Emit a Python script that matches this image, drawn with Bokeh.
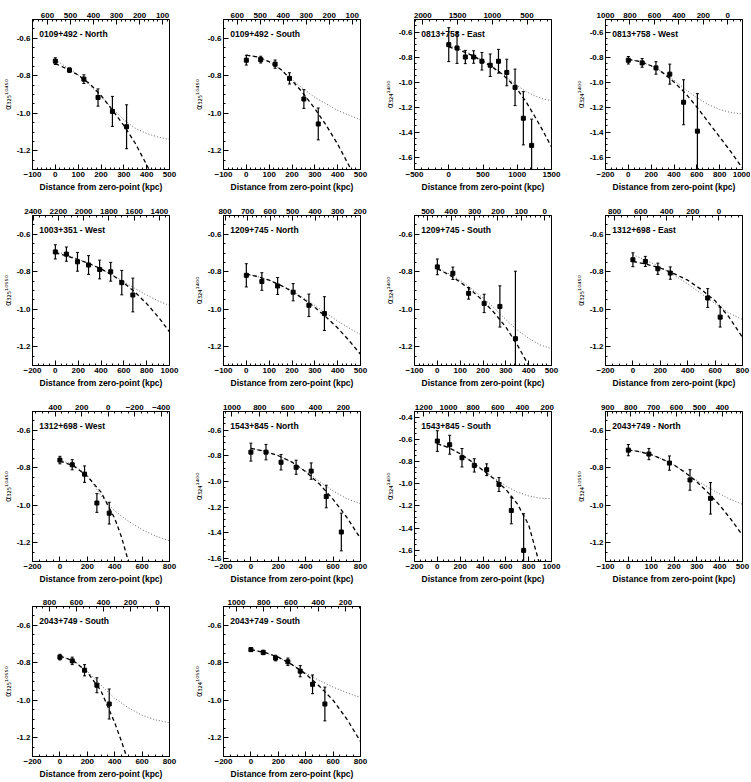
from bokeh.plotting import figure
from bokeh.layouts import gridplot
from bokeh.models import Range1d, LinearAxis, SingleIntervalTicker, Label, ColumnDataSource, PrintfTickFormatter
from bokeh.embed import file_html
from bokeh.resources import INLINE

FONT = "Liberation Sans"

# ---------------- data ----------------
titles = ["0109+492 - North", "0109+492 - South", "0813+758 - East", "0813+758 - West",
          "1003+351 - West", "1209+745 - North", "1209+745 - South", "1312+698 - East",
          "1312+698 - West", "1543+845 - North", "1543+845 - South", "2043+749 - North",
          "2043+749 - South", "2043+749 - South"]
label_sup = ["10450", "10450", "1400", "1400", "10550", "1400", "1400", "10450",
             "10450", "1400", "1400", "10550", "10550", "10550"]
label_sub = ["325", "325", "324", "324", "325", "324", "324", "325",
             "325", "324", "324", "324", "325", "324"]

p1_x = [0, 62, 125, 187, 250, 312]
p1_y = [-0.722, -0.770, -0.818, -0.916, -0.990, -1.072]
p1_err = [0.018, 0.012, 0.023, 0.046, 0.080, 0.117]
p1_dash_x = [0, 50, 100, 150, 200, 250, 300, 350, 400, 450]
p1_dash_y = [-0.735, -0.763, -0.796, -0.842, -0.905, -0.983, -1.065, -1.16, -1.275, -1.40]
p1_dot_x = [0, 50, 100, 150, 200, 250, 300, 350, 400, 450, 500]
p1_dot_y = [-0.715, -0.755, -0.795, -0.85, -0.91, -0.975, -1.035, -1.08, -1.108, -1.127, -1.14]

p2_x = [0, 63, 126, 189, 252, 315]
p2_y = [-0.717, -0.714, -0.738, -0.814, -0.924, -1.057]
p2_err = [0.026, 0.018, 0.022, 0.030, 0.050, 0.085]
p2_dash_x = [0, 50, 100, 150, 200, 250, 300, 350, 400, 450, 480]
p2_dash_y = [-0.69, -0.70, -0.725, -0.765, -0.825, -0.895, -0.975, -1.065, -1.165, -1.28, -1.35]
p2_dot_x = [0, 50, 100, 150, 200, 250, 300, 350, 400, 450, 500]
p2_dot_y = [-0.69, -0.70, -0.725, -0.765, -0.82, -0.87, -0.915, -0.95, -0.985, -1.01, -1.035]

p3_x = [0, 121, 242, 363, 484, 605, 726, 847, 968, 1089, 1210]
p3_y = [-0.701, -0.728, -0.80, -0.80, -0.834, -0.866, -0.834, -0.924, -1.043, -1.29, -1.507]
p3_err = [0.136, 0.123, 0.053, 0.05, 0.07, 0.09, 0.095, 0.106, 0.146, 0.213, 0.21]
p3_dash_x = [0, 125, 250, 375, 500, 625, 750, 875, 1000, 1125, 1250, 1375, 1500]
p3_dash_y = [-0.72, -0.74, -0.765, -0.797, -0.835, -0.877, -0.925, -0.985, -1.06, -1.155, -1.27, -1.39, -1.52]
p3_dot_x = [0, 125, 250, 375, 500, 625, 750, 875, 1000, 1125, 1250, 1375, 1500]
p3_dot_y = [-0.71, -0.73, -0.76, -0.79, -0.83, -0.872, -0.92, -0.975, -1.03, -1.075, -1.11, -1.135, -1.15]

p4_x = [0, 121, 242, 363, 484, 605]
p4_y = [-0.826, -0.847, -0.887, -0.937, -1.162, -1.393]
p4_err = [0.03, 0.035, 0.05, 0.08, 0.18, 0.30]
p4_dash_x = [0, 100, 200, 300, 400, 500, 600, 700, 800, 900, 1000]
p4_dash_y = [-0.82, -0.835, -0.87, -0.925, -1.0, -1.09, -1.2, -1.32, -1.44, -1.56, -1.69]
p4_dot_x = [0, 100, 200, 300, 400, 500, 600, 700, 800, 900, 1000]
p4_dot_y = [-0.82, -0.835, -0.87, -0.92, -0.985, -1.06, -1.125, -1.18, -1.22, -1.245, -1.255]

p5_x = [0, 97, 194, 291, 388, 485, 582, 679]
p5_y = [-0.694, -0.706, -0.747, -0.764, -0.788, -0.80, -0.858, -0.924]
p5_err = [0.038, 0.038, 0.05, 0.05, 0.05, 0.05, 0.065, 0.09]
p5_dash_x = [0, 100, 200, 300, 400, 500, 600, 700, 800, 900, 1000]
p5_dash_y = [-0.70, -0.715, -0.735, -0.757, -0.785, -0.818, -0.86, -0.91, -0.97, -1.04, -1.12]
p5_dot_x = [0, 100, 200, 300, 400, 500, 600, 700, 800, 900, 1000]
p5_dot_y = [-0.69, -0.71, -0.733, -0.757, -0.785, -0.817, -0.853, -0.89, -0.925, -0.955, -0.98]

p6_x = [0, 68, 137, 205, 274, 342]
p6_y = [-0.819, -0.852, -0.876, -0.909, -0.979, -1.023]
p6_err = [0.062, 0.047, 0.045, 0.046, 0.06, 0.09]
p6_dash_x = [0, 50, 100, 150, 200, 250, 300, 350, 400, 450, 500]
p6_dash_y = [-0.812, -0.826, -0.845, -0.872, -0.905, -0.945, -0.99, -1.042, -1.10, -1.167, -1.24]
p6_dot_x = [0, 50, 100, 150, 200, 250, 300, 350, 400, 450, 500]
p6_dot_y = [-0.812, -0.826, -0.845, -0.872, -0.90, -0.94, -0.98, -1.022, -1.063, -1.10, -1.135]

p7_x = [0, 68, 137, 205, 274, 342]
p7_y = [-0.774, -0.808, -0.915, -0.969, -0.985, -1.157]
p7_err = [0.042, 0.033, 0.031, 0.049, 0.11, 0.36]
p7_dash_x = [0, 50, 100, 150, 200, 250, 300, 350, 400]
p7_dash_y = [-0.785, -0.815, -0.855, -0.90, -0.955, -1.02, -1.095, -1.19, -1.30]
p7_dot_x = [0, 50, 100, 150, 200, 250, 300, 350, 400, 450, 500]
p7_dot_y = [-0.78, -0.81, -0.845, -0.89, -0.94, -0.995, -1.055, -1.11, -1.155, -1.19, -1.21]

p8_x = [0, 91, 182, 273, 546, 637]
p8_y = [-0.736, -0.745, -0.784, -0.807, -0.94, -1.042]
p8_err = [0.037, 0.027, 0.03, 0.033, 0.05, 0.053]
p8_dash_x = [0, 100, 200, 300, 400, 500, 600, 700, 800]
p8_dash_y = [-0.745, -0.76, -0.78, -0.81, -0.845, -0.895, -0.955, -1.04, -1.15]
p8_dot_x = [0, 100, 200, 300, 400, 500, 600, 700, 800]
p8_dot_y = [-0.71, -0.74, -0.775, -0.818, -0.865, -0.917, -0.97, -1.02, -1.055]

p9_x = [0, 90, 180, 270, 360]
p9_y = [-0.759, -0.784, -0.834, -0.988, -1.042]
p9_err = [0.02, 0.027, 0.044, 0.05, 0.058]
p9_dash_x = [0, 100, 200, 300, 400, 450, 500]
p9_dash_y = [-0.765, -0.79, -0.845, -0.93, -1.07, -1.17, -1.30]
p9_dot_x = [0, 100, 200, 300, 400, 500, 600, 700, 800]
p9_dot_y = [-0.758, -0.785, -0.84, -0.95, -1.03, -1.085, -1.13, -1.165, -1.19]

p10_x = [0, 110, 220, 330, 440, 550, 660]
p10_y = [-0.772, -0.772, -0.851, -0.89, -0.92, -1.118, -1.395]
p10_err = [0.07, 0.06, 0.06, 0.055, 0.064, 0.088, 0.147]
p10_dash_x = [0, 100, 200, 300, 400, 500, 600, 700, 800]
p10_dash_y = [-0.742, -0.765, -0.80, -0.85, -0.925, -1.02, -1.14, -1.28, -1.445]
p10_dot_x = [0, 100, 200, 300, 400, 500, 600, 700, 800]
p10_dot_y = [-0.742, -0.765, -0.80, -0.85, -0.92, -1.0, -1.075, -1.135, -1.175]

p11_x = [0, 108, 216, 324, 432, 540, 648, 756]
p11_y = [-0.616, -0.649, -0.766, -0.835, -0.874, -1.007, -1.241, -1.60]
p11_err = [0.093, 0.085, 0.083, 0.06, 0.053, 0.063, 0.12, 0.33]
p11_dash_x = [0, 100, 200, 300, 400, 500, 600, 700, 800, 900]
p11_dash_y = [-0.64, -0.675, -0.73, -0.80, -0.88, -0.96, -1.05, -1.18, -1.37, -1.74]
p11_dot_x = [0, 100, 200, 300, 400, 500, 600, 700, 800, 900, 1000]
p11_dot_y = [-0.64, -0.675, -0.73, -0.80, -0.875, -0.95, -1.02, -1.075, -1.11, -1.13, -1.135]

p12_x = [0, 90, 180, 270, 360]
p12_y = [-0.706, -0.727, -0.775, -0.865, -0.963]
p12_err = [0.03, 0.03, 0.038, 0.055, 0.084]
p12_dash_x = [0, 50, 100, 150, 200, 250, 300, 350, 400, 450, 500]
p12_dash_y = [-0.705, -0.714, -0.73, -0.755, -0.785, -0.826, -0.875, -0.934, -1.0, -1.076, -1.16]
p12_dot_x = [0, 50, 100, 150, 200, 250, 300, 350, 400, 450, 500]
p12_dot_y = [-0.705, -0.714, -0.73, -0.755, -0.785, -0.826, -0.868, -0.905, -0.94, -0.97, -0.995]

p13_x = [0, 90, 180, 270, 360]
p13_y = [-0.77, -0.79, -0.84, -0.92, -1.02]
p13_err = [0.015, 0.02, 0.03, 0.04, 0.08]
p13_dash_x = [0, 100, 200, 300, 400, 450, 500]
p13_dash_y = [-0.765, -0.79, -0.85, -0.95, -1.12, -1.22, -1.33]
p13_dot_x = [0, 100, 200, 300, 400, 500, 600, 700, 800]
p13_dot_y = [-0.765, -0.79, -0.845, -0.92, -0.99, -1.04, -1.08, -1.105, -1.12]

p14_x = [0, 90, 180, 270, 360, 450, 540]
p14_y = [-0.73, -0.745, -0.775, -0.795, -0.845, -0.915, -1.02]
p14_err = [0.01, 0.012, 0.015, 0.02, 0.03, 0.05, 0.09]
p14_dash_x = [0, 100, 200, 300, 400, 500, 600, 700, 800]
p14_dash_y = [-0.73, -0.745, -0.77, -0.81, -0.86, -0.925, -1.0, -1.1, -1.22]
p14_dot_x = [0, 100, 200, 300, 400, 500, 600, 700, 800]
p14_dot_y = [-0.73, -0.745, -0.77, -0.81, -0.855, -0.895, -0.93, -0.96, -0.985]

# axis ranges (bottom x, y, top x) and tick steps
x_ranges = [(-100, 500), (-100, 500), (-500, 1500), (-200, 1000),
            (-200, 1000), (-100, 500), (-100, 500), (-200, 800),
            (-200, 800), (-200, 800), (-200, 1000), (-100, 500),
            (-200, 800), (-200, 800)]
y_ranges = [(-1.3, -0.5), (-1.3, -0.5), (-1.7, -0.5), (-1.7, -0.5),
            (-1.3, -0.5), (-1.3, -0.5), (-1.3, -0.5), (-1.3, -0.5),
            (-1.3, -0.5), (-1.625, -0.455), (-1.7, -0.35), (-1.3, -0.5),
            (-1.3, -0.5), (-1.3, -0.5)]
top_ranges = [(665, 70), (660, 64), (2120, 148), (1000, -120),
              (2405, 1320), (807, 198), (557, -29), (870, -181),
              (572, -463), (1061, 77), (1275, 165), (910, 312),
              (926, -89), (1095, 90)]
x_steps = [100, 100, 500, 200, 200, 100, 100, 200, 200, 200, 200, 100, 200, 200]
top_steps = [100, 100, 500, 200, 200, 100, 100, 200, 200, 200, 200, 100, 200, 200]

points_x = [p1_x, p2_x, p3_x, p4_x, p5_x, p6_x, p7_x, p8_x, p9_x, p10_x, p11_x, p12_x, p13_x, p14_x]
points_y = [p1_y, p2_y, p3_y, p4_y, p5_y, p6_y, p7_y, p8_y, p9_y, p10_y, p11_y, p12_y, p13_y, p14_y]
points_err = [p1_err, p2_err, p3_err, p4_err, p5_err, p6_err, p7_err, p8_err, p9_err, p10_err,
              p11_err, p12_err, p13_err, p14_err]
dash_x = [p1_dash_x, p2_dash_x, p3_dash_x, p4_dash_x, p5_dash_x, p6_dash_x, p7_dash_x,
          p8_dash_x, p9_dash_x, p10_dash_x, p11_dash_x, p12_dash_x, p13_dash_x, p14_dash_x]
dash_y = [p1_dash_y, p2_dash_y, p3_dash_y, p4_dash_y, p5_dash_y, p6_dash_y, p7_dash_y,
          p8_dash_y, p9_dash_y, p10_dash_y, p11_dash_y, p12_dash_y, p13_dash_y, p14_dash_y]
dot_x = [p1_dot_x, p2_dot_x, p3_dot_x, p4_dot_x, p5_dot_x, p6_dot_x, p7_dot_x,
         p8_dot_x, p9_dot_x, p10_dot_x, p11_dot_x, p12_dot_x, p13_dot_x, p14_dot_x]
dot_y = [p1_dot_y, p2_dot_y, p3_dot_y, p4_dot_y, p5_dot_y, p6_dot_y, p7_dot_y,
         p8_dot_y, p9_dot_y, p10_dot_y, p11_dot_y, p12_dot_y, p13_dot_y, p14_dot_y]

# ---------------- layout ----------------
col_widths = [189, 191, 191, 179]
col_left = [32, 34, 34, 34]
row_heights = [196, 196, 195, 195]
FRAME_W = 137
FRAME_H = 150
TOP_B = 19

SUP = str.maketrans("0123456789", "⁰¹²³⁴⁵⁶⁷⁸⁹")
SUB = str.maketrans("0123456789", "₀₁₂₃₄₅₆₇₈₉")


def style_axis(ax, label_size="8px"):
    ax.axis_line_color = "black"
    ax.axis_line_width = 1
    ax.major_tick_in = 5
    ax.major_tick_out = 0
    ax.minor_tick_in = 2
    ax.minor_tick_out = 0
    ax.major_tick_line_color = "black"
    ax.minor_tick_line_color = "black"
    ax.major_label_text_font = FONT
    ax.major_label_text_font_size = label_size
    ax.major_label_text_font_style = "bold"
    ax.major_label_text_color = "black"
    ax.major_label_standoff = 2
    ax.axis_label_text_font = FONT
    ax.axis_label_text_font_size = "8.5px"
    ax.axis_label_text_font_style = "bold"
    ax.axis_label_text_color = "black"
    ax.axis_label_standoff = 2


def make_panel(i):
    r, c = divmod(i, 4)
    w = col_widths[c]
    h = row_heights[r]
    left = col_left[c]
    right = w - left - FRAME_W
    bottom = h - TOP_B - FRAME_H
    xr = x_ranges[i]
    yr = y_ranges[i]
    p = figure(width=w, height=h, x_range=Range1d(*xr), y_range=Range1d(*yr),
               output_backend="svg", toolbar_location=None,
               min_border_left=left, min_border_right=right,
               min_border_top=TOP_B, min_border_bottom=bottom)
    p.grid.visible = False
    p.outline_line_color = "black"
    p.outline_line_width = 1
    p.background_fill_color = "white"
    p.border_fill_color = "white"

    xs = x_steps[i]
    p.xaxis[0].ticker = SingleIntervalTicker(interval=xs, num_minor_ticks=4 if xs == 200 else 5)
    p.xaxis[0].axis_label = "Distance from zero-point (kpc)"
    style_axis(p.xaxis[0])
    p.yaxis[0].ticker = SingleIntervalTicker(interval=0.2, num_minor_ticks=4)
    p.yaxis[0].formatter = PrintfTickFormatter(format="%.1f")
    p.yaxis[0].axis_label = "α" + label_sub[i].translate(SUB) + label_sup[i].translate(SUP)
    style_axis(p.yaxis[0])
    p.yaxis[0].axis_label_text_font = "DejaVu Sans"
    p.yaxis[0].axis_label_text_font_size = "8px"
    p.yaxis[0].axis_label_text_font_style = "normal"
    p.yaxis[0].axis_label_standoff = 1

    p.extra_x_ranges = {"top": Range1d(*top_ranges[i])}
    ts = top_steps[i]
    top = LinearAxis(x_range_name="top",
                     ticker=SingleIntervalTicker(interval=ts, num_minor_ticks=4 if ts == 200 else 5))
    style_axis(top)
    p.add_layout(top, "above")

    x = points_x[i]
    y = points_y[i]
    e = points_err[i]
    src = ColumnDataSource(dict(x=x, y=y,
                                lo=[a - b for a, b in zip(y, e)],
                                hi=[a + b for a, b in zip(y, e)]))
    p.line(dot_x[i], dot_y[i], line_color="#555555", line_width=0.9, line_dash="1 2")
    p.line(dash_x[i], dash_y[i], line_color="black", line_width=1.3, line_dash="4 3")
    p.segment(x0="x", y0="lo", x1="x", y1="hi", source=src, line_color="black", line_width=1.2)
    p.scatter("x", "lo", source=src, marker="dash", size=3, line_color="black", line_width=1)
    p.scatter("x", "hi", source=src, marker="dash", size=3, line_color="black", line_width=1)
    p.scatter("x", "y", source=src, marker="square", size=4, color="black")

    p.add_layout(Label(x=xr[0] + 0.05 * (xr[1] - xr[0]),
                       y=yr[1] - 0.095 * (yr[1] - yr[0]),
                       text=titles[i], text_font=FONT, text_font_size="8.5px",
                       text_font_style="bold", text_color="black",
                       text_baseline="middle", text_align="left"))
    return p


panels = [make_panel(i) for i in range(14)]
rows = [panels[0:4], panels[4:8], panels[8:12], panels[12:14] + [None, None]]
grid = gridplot(rows, toolbar_location=None)

html = file_html(grid, INLINE, title="spectral index profiles")
html = html.replace("</head>", "<style>body{margin:0;padding:0;}</style></head>", 1)
open("out.html", "w").write(html)
